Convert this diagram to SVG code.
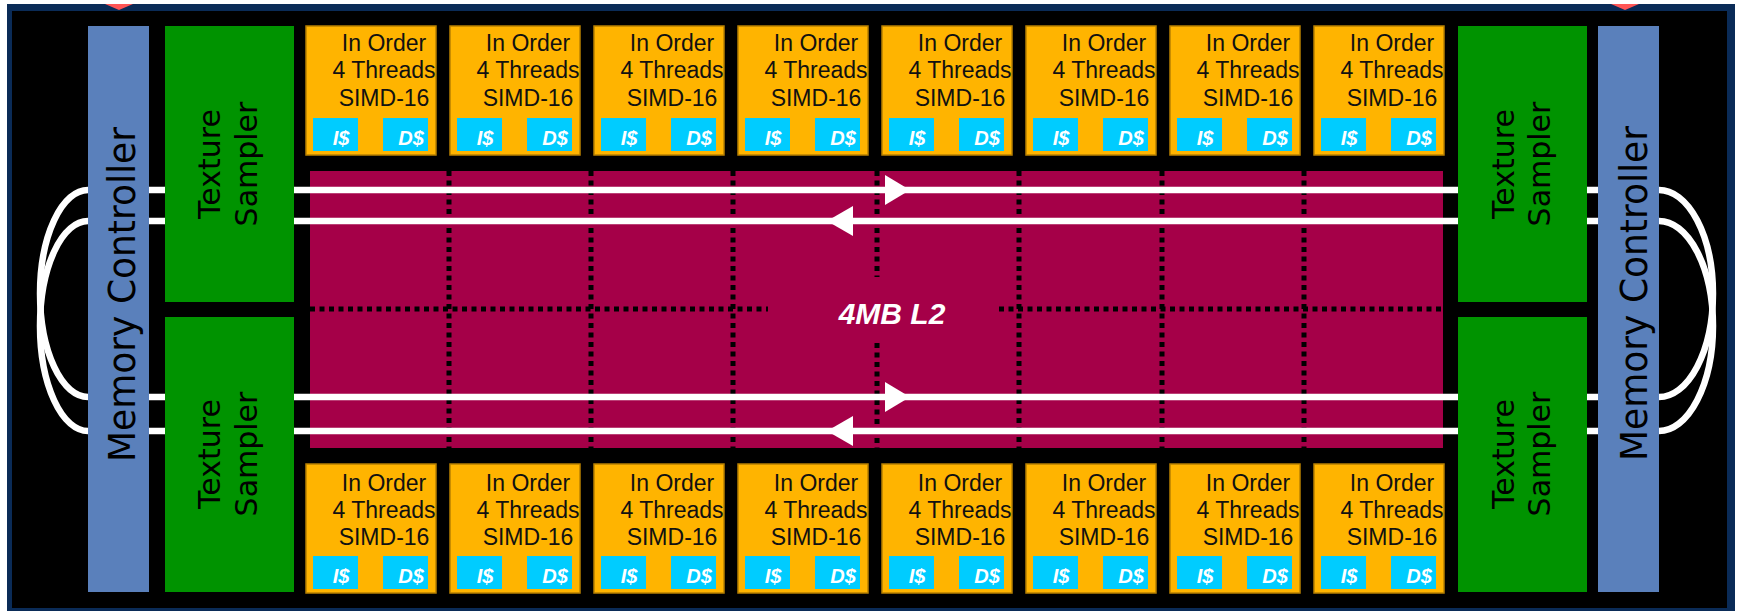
<svg xmlns="http://www.w3.org/2000/svg" width="1739" height="611" viewBox="0 0 1739 611">
<style>
.core{fill:#ffb400;stroke:#b88000;stroke-width:1.5}
.cache{fill:#00ccff}
.ct{font-family:"Liberation Sans",Arial,sans-serif;font-size:23px;fill:#111;text-anchor:middle}
.cc{font-family:"Liberation Sans",Arial,sans-serif;font-size:20px;font-weight:bold;font-style:italic;fill:#fff;text-anchor:middle}
.mc{fill:#5a80bb}
.ts{fill:#009300}
.vt{font-family:"DejaVu Sans",Verdana,sans-serif;fill:#000;text-anchor:middle}
.wire{stroke:#fff;stroke-width:6.5;fill:none}
.dot{stroke:#000;stroke-width:5;stroke-dasharray:5 4.5;fill:none}
.arrow{fill:#fff}
</style>
<defs>
<g id="coreShape">
<rect class="core" x="0" y="0" width="130" height="129"/>
<rect class="cache" x="7" y="92" width="45" height="33"/>
<rect class="cache" x="77" y="92" width="45" height="33"/>
</g>
<polygon id="arrowR" points="-25,-15 -25,15 0,0"/>
<polygon id="arrowL" points="26,-15 26,15 0,0"/>
</defs>
<rect x="0" y="0" width="1739" height="611" fill="#fff"/>
<rect x="7" y="4" width="1728" height="610" fill="#0a2b57"/>
<rect x="12" y="11" width="1715" height="597" fill="#000"/>
<polygon points="105,4 133,4 119,10" fill="#ff5555"/>
<polygon points="1611,4 1639,4 1625,10" fill="#ff5555"/>

<g id="l2">
<rect x="310" y="171" width="1133" height="277" fill="#a50048"/>
<path class="dot" d="M449,171V448M591,171V448M733,171V448M877,171V277M877,343V448M1019,171V448M1162,171V448M1304,171V448"/>
<path class="dot" d="M310,309H768M999,309H1443"/>
<text x="892" y="324" font-family="Liberation Sans,Arial,sans-serif" font-size="30" font-weight="bold" font-style="italic" fill="#fff" text-anchor="middle">4MB L2</text>
</g>

<g id="connectors">
<path class="wire" d="M149,190H165M294,190H1458M1587,190H1598"/>
<path class="wire" d="M149,221H165M294,221H1458M1587,221H1598"/>
<path class="wire" d="M149,397H165M294,397H1458M1587,397H1598"/>
<path class="wire" d="M149,431H165M294,431H1458M1587,431H1598"/>
<path class="wire" d="M88,190A48,103.5 0 0 0 88,397"/>
<path class="wire" d="M88,221A48,105 0 0 0 88,431"/>
<path class="wire" d="M1659,190A54,103.5 0 0 1 1659,397"/>
<path class="wire" d="M1659,221A54,105 0 0 1 1659,431"/>
<use href="#arrowR" class="arrow" x="910" y="190"/>
<use href="#arrowL" class="arrow" x="827" y="221"/>
<use href="#arrowR" class="arrow" x="910" y="397"/>
<use href="#arrowL" class="arrow" x="827" y="431"/>
</g>

<g id="mc-left">
<rect class="mc" x="88" y="26" width="61" height="566"/>
<text class="vt" font-size="37" textLength="335" lengthAdjust="spacingAndGlyphs" transform="translate(135,294.5) rotate(-90)">Memory Controller</text>
</g>
<g id="mc-right">
<rect class="mc" x="1598" y="26" width="61" height="566"/>
<text class="vt" font-size="37" textLength="335" lengthAdjust="spacingAndGlyphs" transform="translate(1647,293.5) rotate(-90)">Memory Controller</text>
</g>
<g id="ts-left-top">
<rect class="ts" x="165" y="26" width="129" height="276"/>
<text class="vt" font-size="30" transform="translate(220,164) rotate(-90)">Texture</text>
<text class="vt" font-size="30" transform="translate(257,164) rotate(-90)">Sampler</text>
</g>
<g id="ts-left-bottom">
<rect class="ts" x="165" y="317" width="129" height="275"/>
<text class="vt" font-size="30" transform="translate(220,454) rotate(-90)">Texture</text>
<text class="vt" font-size="30" transform="translate(257,454) rotate(-90)">Sampler</text>
</g>
<g id="ts-right-top">
<rect class="ts" x="1458" y="26" width="129" height="276"/>
<text class="vt" font-size="30" transform="translate(1514,164) rotate(-90)">Texture</text>
<text class="vt" font-size="30" transform="translate(1550,164) rotate(-90)">Sampler</text>
</g>
<g id="ts-right-bottom">
<rect class="ts" x="1458" y="317" width="129" height="275"/>
<text class="vt" font-size="30" transform="translate(1514,454) rotate(-90)">Texture</text>
<text class="vt" font-size="30" transform="translate(1550,454) rotate(-90)">Sampler</text>
</g>

<g id="core-t1" transform="translate(306,26)"><use href="#coreShape"/><text class="ct" x="78" y="25">In Order</text><text class="ct" x="78" y="52">4 Threads</text><text class="ct" x="78" y="80">SIMD-16</text><text class="cc" x="35" y="119">I$</text><text class="cc" x="105" y="119">D$</text></g>
<g id="core-t2" transform="translate(450,26)"><use href="#coreShape"/><text class="ct" x="78" y="25">In Order</text><text class="ct" x="78" y="52">4 Threads</text><text class="ct" x="78" y="80">SIMD-16</text><text class="cc" x="35" y="119">I$</text><text class="cc" x="105" y="119">D$</text></g>
<g id="core-t3" transform="translate(594,26)"><use href="#coreShape"/><text class="ct" x="78" y="25">In Order</text><text class="ct" x="78" y="52">4 Threads</text><text class="ct" x="78" y="80">SIMD-16</text><text class="cc" x="35" y="119">I$</text><text class="cc" x="105" y="119">D$</text></g>
<g id="core-t4" transform="translate(738,26)"><use href="#coreShape"/><text class="ct" x="78" y="25">In Order</text><text class="ct" x="78" y="52">4 Threads</text><text class="ct" x="78" y="80">SIMD-16</text><text class="cc" x="35" y="119">I$</text><text class="cc" x="105" y="119">D$</text></g>
<g id="core-t5" transform="translate(882,26)"><use href="#coreShape"/><text class="ct" x="78" y="25">In Order</text><text class="ct" x="78" y="52">4 Threads</text><text class="ct" x="78" y="80">SIMD-16</text><text class="cc" x="35" y="119">I$</text><text class="cc" x="105" y="119">D$</text></g>
<g id="core-t6" transform="translate(1026,26)"><use href="#coreShape"/><text class="ct" x="78" y="25">In Order</text><text class="ct" x="78" y="52">4 Threads</text><text class="ct" x="78" y="80">SIMD-16</text><text class="cc" x="35" y="119">I$</text><text class="cc" x="105" y="119">D$</text></g>
<g id="core-t7" transform="translate(1170,26)"><use href="#coreShape"/><text class="ct" x="78" y="25">In Order</text><text class="ct" x="78" y="52">4 Threads</text><text class="ct" x="78" y="80">SIMD-16</text><text class="cc" x="35" y="119">I$</text><text class="cc" x="105" y="119">D$</text></g>
<g id="core-t8" transform="translate(1314,26)"><use href="#coreShape"/><text class="ct" x="78" y="25">In Order</text><text class="ct" x="78" y="52">4 Threads</text><text class="ct" x="78" y="80">SIMD-16</text><text class="cc" x="35" y="119">I$</text><text class="cc" x="105" y="119">D$</text></g>

<g id="core-b1" transform="translate(306,464)"><use href="#coreShape"/><text class="ct" x="78" y="27">In Order</text><text class="ct" x="78" y="54">4 Threads</text><text class="ct" x="78" y="81">SIMD-16</text><text class="cc" x="35" y="119">I$</text><text class="cc" x="105" y="119">D$</text></g>
<g id="core-b2" transform="translate(450,464)"><use href="#coreShape"/><text class="ct" x="78" y="27">In Order</text><text class="ct" x="78" y="54">4 Threads</text><text class="ct" x="78" y="81">SIMD-16</text><text class="cc" x="35" y="119">I$</text><text class="cc" x="105" y="119">D$</text></g>
<g id="core-b3" transform="translate(594,464)"><use href="#coreShape"/><text class="ct" x="78" y="27">In Order</text><text class="ct" x="78" y="54">4 Threads</text><text class="ct" x="78" y="81">SIMD-16</text><text class="cc" x="35" y="119">I$</text><text class="cc" x="105" y="119">D$</text></g>
<g id="core-b4" transform="translate(738,464)"><use href="#coreShape"/><text class="ct" x="78" y="27">In Order</text><text class="ct" x="78" y="54">4 Threads</text><text class="ct" x="78" y="81">SIMD-16</text><text class="cc" x="35" y="119">I$</text><text class="cc" x="105" y="119">D$</text></g>
<g id="core-b5" transform="translate(882,464)"><use href="#coreShape"/><text class="ct" x="78" y="27">In Order</text><text class="ct" x="78" y="54">4 Threads</text><text class="ct" x="78" y="81">SIMD-16</text><text class="cc" x="35" y="119">I$</text><text class="cc" x="105" y="119">D$</text></g>
<g id="core-b6" transform="translate(1026,464)"><use href="#coreShape"/><text class="ct" x="78" y="27">In Order</text><text class="ct" x="78" y="54">4 Threads</text><text class="ct" x="78" y="81">SIMD-16</text><text class="cc" x="35" y="119">I$</text><text class="cc" x="105" y="119">D$</text></g>
<g id="core-b7" transform="translate(1170,464)"><use href="#coreShape"/><text class="ct" x="78" y="27">In Order</text><text class="ct" x="78" y="54">4 Threads</text><text class="ct" x="78" y="81">SIMD-16</text><text class="cc" x="35" y="119">I$</text><text class="cc" x="105" y="119">D$</text></g>
<g id="core-b8" transform="translate(1314,464)"><use href="#coreShape"/><text class="ct" x="78" y="27">In Order</text><text class="ct" x="78" y="54">4 Threads</text><text class="ct" x="78" y="81">SIMD-16</text><text class="cc" x="35" y="119">I$</text><text class="cc" x="105" y="119">D$</text></g>
</svg>
